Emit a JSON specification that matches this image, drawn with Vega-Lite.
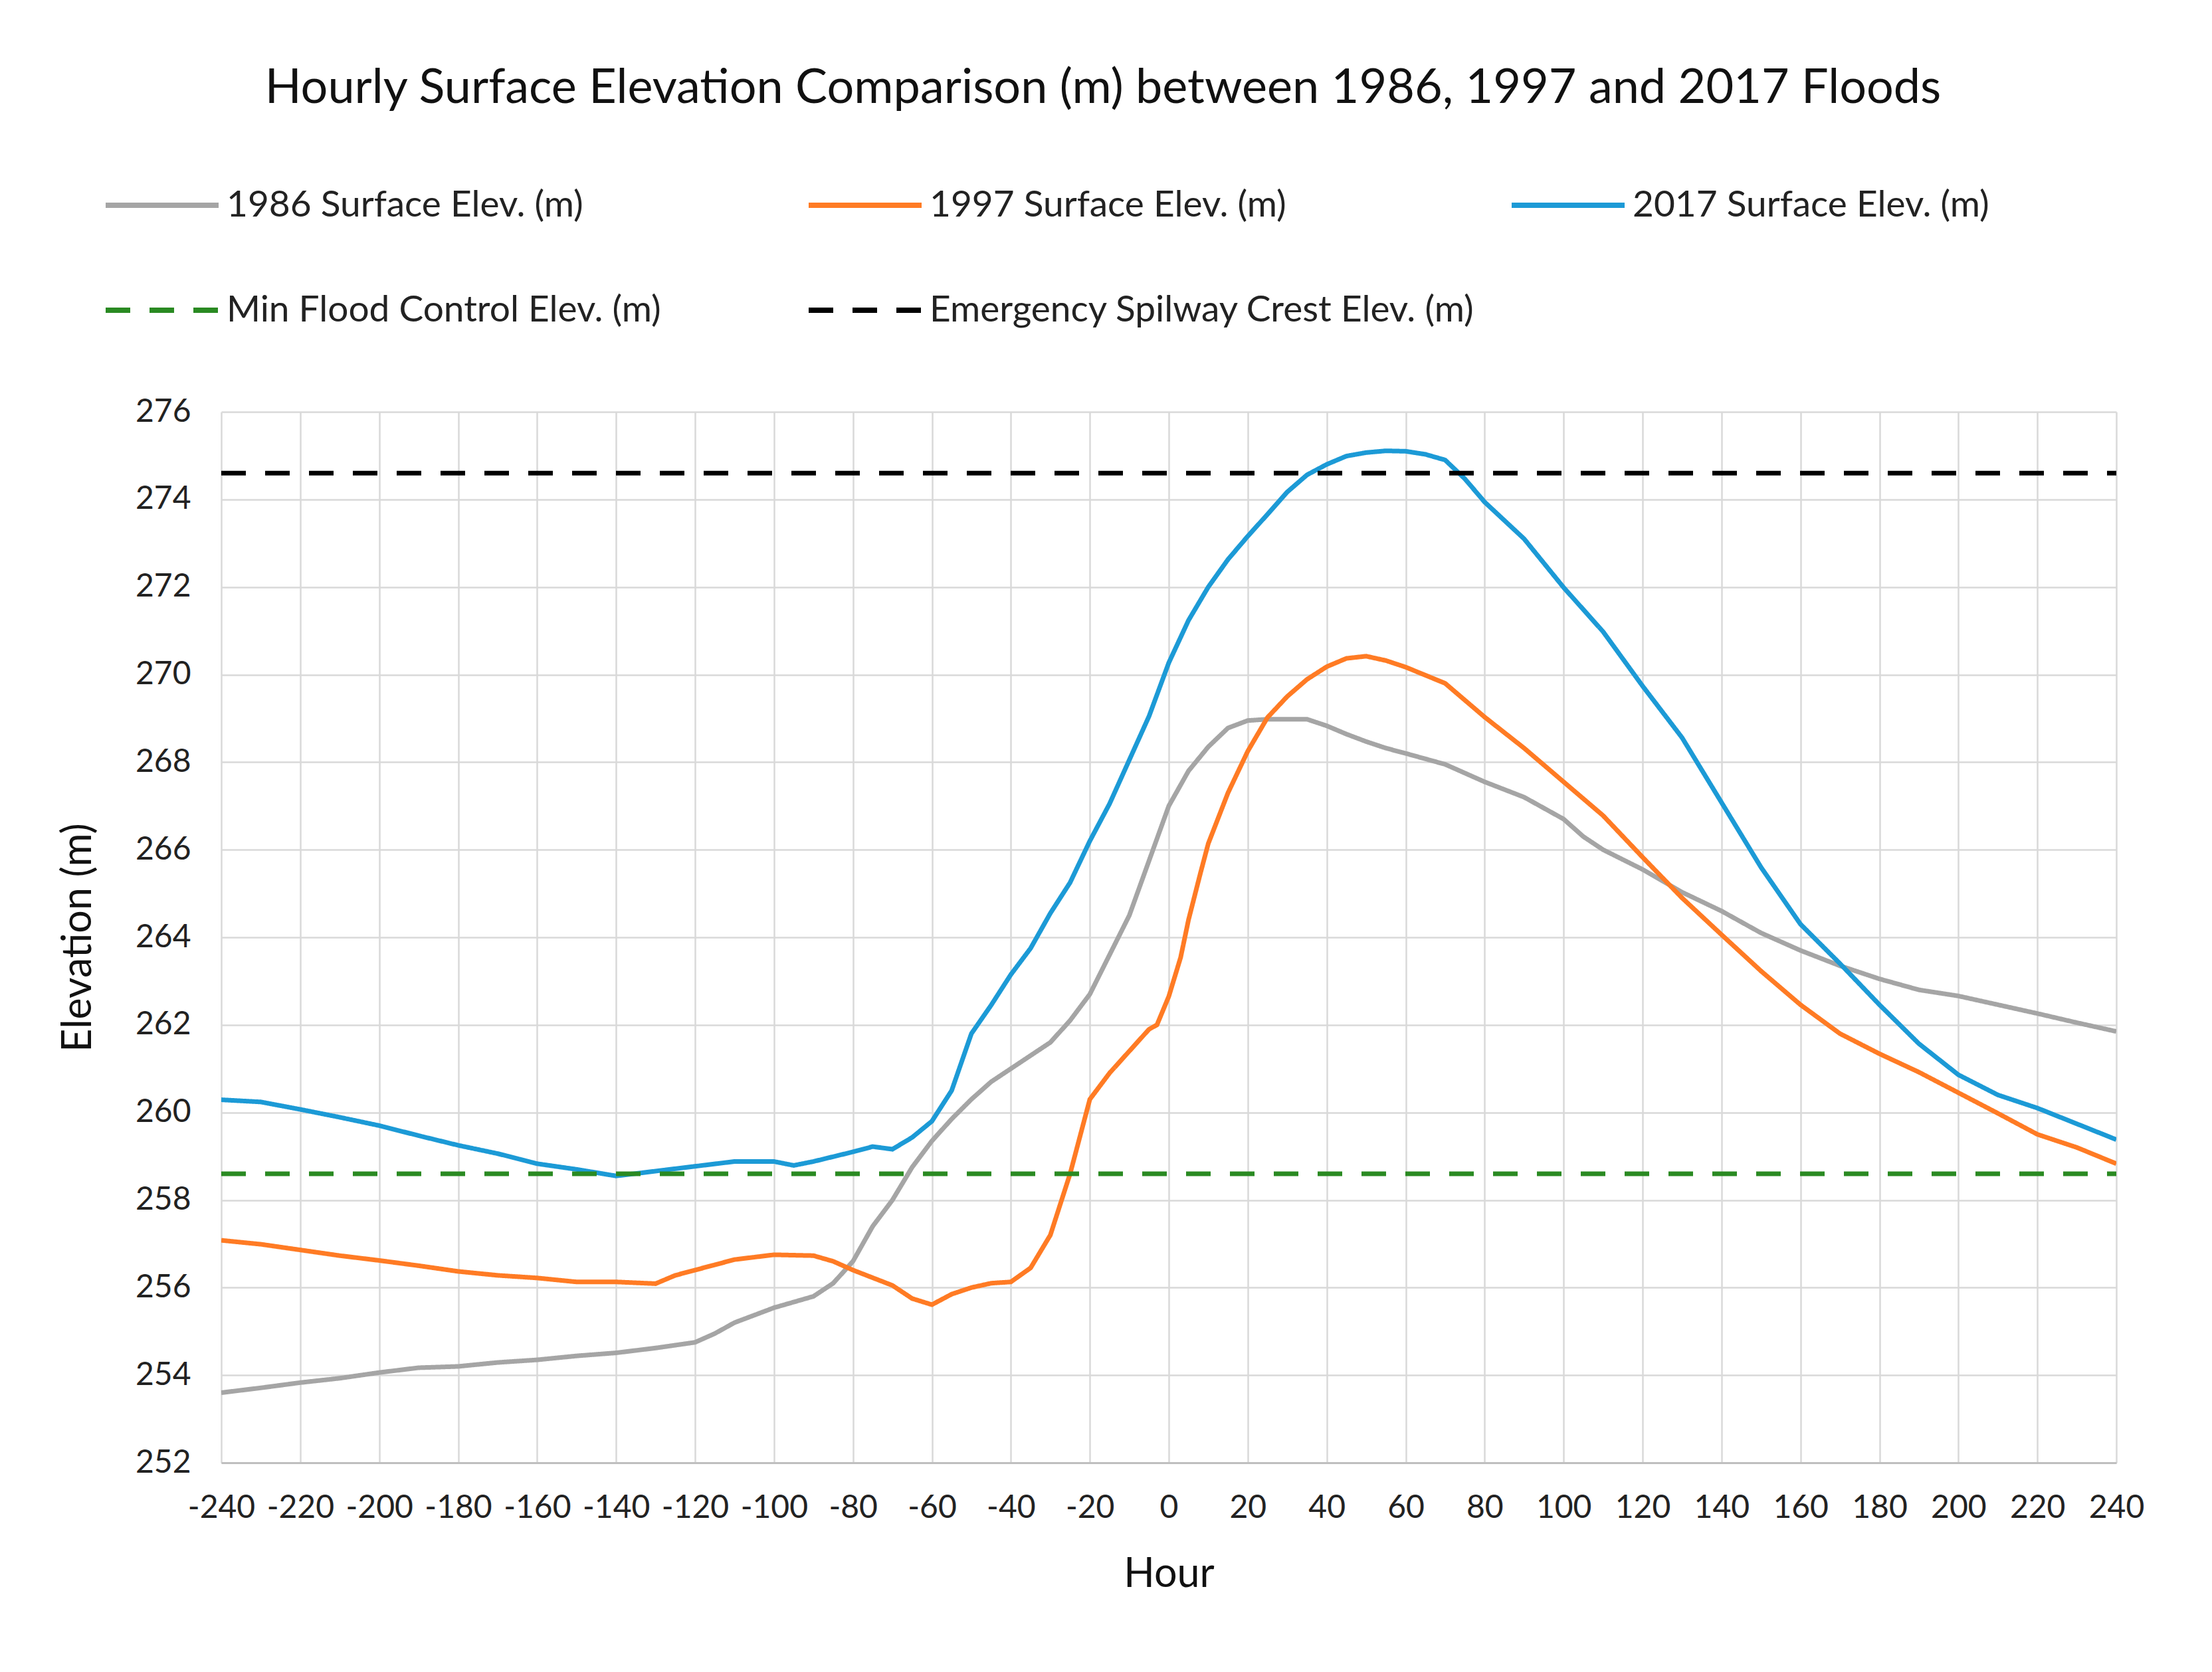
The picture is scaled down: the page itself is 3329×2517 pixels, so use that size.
{
  "$schema": "https://vega.github.io/schema/vega-lite/v6.json",
  "width": 2852,
  "height": 1582,
  "autosize": {"type": "none"},
  "padding": {"left": 333, "top": 620, "right": 144, "bottom": 315},
  "background": "white",
  "title": {
    "text": "Hourly Surface Elevation Comparison (m) between 1986, 1997 and 2017 Floods",
    "font": "Lato",
    "fontSize": 72,
    "fontWeight": "normal",
    "color": "#111111",
    "anchor": "middle",
    "dx": -99,
    "offset": 50
  },
  "data": {
    "values": [
      {"hour": -240, "series": "1986 Surface Elev. (m)", "elev": 253.6},
      {"hour": -230, "series": "1986 Surface Elev. (m)", "elev": 253.71},
      {"hour": -220, "series": "1986 Surface Elev. (m)", "elev": 253.83},
      {"hour": -210, "series": "1986 Surface Elev. (m)", "elev": 253.93},
      {"hour": -200, "series": "1986 Surface Elev. (m)", "elev": 254.06},
      {"hour": -190, "series": "1986 Surface Elev. (m)", "elev": 254.17},
      {"hour": -180, "series": "1986 Surface Elev. (m)", "elev": 254.2},
      {"hour": -170, "series": "1986 Surface Elev. (m)", "elev": 254.29},
      {"hour": -160, "series": "1986 Surface Elev. (m)", "elev": 254.35},
      {"hour": -150, "series": "1986 Surface Elev. (m)", "elev": 254.44},
      {"hour": -140, "series": "1986 Surface Elev. (m)", "elev": 254.51},
      {"hour": -130, "series": "1986 Surface Elev. (m)", "elev": 254.62},
      {"hour": -120, "series": "1986 Surface Elev. (m)", "elev": 254.75},
      {"hour": -115, "series": "1986 Surface Elev. (m)", "elev": 254.95},
      {"hour": -110, "series": "1986 Surface Elev. (m)", "elev": 255.2},
      {"hour": -100, "series": "1986 Surface Elev. (m)", "elev": 255.54},
      {"hour": -90, "series": "1986 Surface Elev. (m)", "elev": 255.8},
      {"hour": -85, "series": "1986 Surface Elev. (m)", "elev": 256.1},
      {"hour": -80, "series": "1986 Surface Elev. (m)", "elev": 256.6},
      {"hour": -75, "series": "1986 Surface Elev. (m)", "elev": 257.4},
      {"hour": -70, "series": "1986 Surface Elev. (m)", "elev": 258.0},
      {"hour": -65, "series": "1986 Surface Elev. (m)", "elev": 258.75},
      {"hour": -60, "series": "1986 Surface Elev. (m)", "elev": 259.35},
      {"hour": -55, "series": "1986 Surface Elev. (m)", "elev": 259.85},
      {"hour": -50, "series": "1986 Surface Elev. (m)", "elev": 260.3},
      {"hour": -45, "series": "1986 Surface Elev. (m)", "elev": 260.7},
      {"hour": -40, "series": "1986 Surface Elev. (m)", "elev": 261.0},
      {"hour": -35, "series": "1986 Surface Elev. (m)", "elev": 261.3},
      {"hour": -30, "series": "1986 Surface Elev. (m)", "elev": 261.6},
      {"hour": -25, "series": "1986 Surface Elev. (m)", "elev": 262.1},
      {"hour": -20, "series": "1986 Surface Elev. (m)", "elev": 262.7},
      {"hour": -15, "series": "1986 Surface Elev. (m)", "elev": 263.6},
      {"hour": -10, "series": "1986 Surface Elev. (m)", "elev": 264.5},
      {"hour": -5, "series": "1986 Surface Elev. (m)", "elev": 265.75},
      {"hour": 0, "series": "1986 Surface Elev. (m)", "elev": 267.0},
      {"hour": 5, "series": "1986 Surface Elev. (m)", "elev": 267.8},
      {"hour": 10, "series": "1986 Surface Elev. (m)", "elev": 268.35},
      {"hour": 15, "series": "1986 Surface Elev. (m)", "elev": 268.78},
      {"hour": 20, "series": "1986 Surface Elev. (m)", "elev": 268.95},
      {"hour": 25, "series": "1986 Surface Elev. (m)", "elev": 268.98},
      {"hour": 30, "series": "1986 Surface Elev. (m)", "elev": 268.98},
      {"hour": 35, "series": "1986 Surface Elev. (m)", "elev": 268.98},
      {"hour": 40, "series": "1986 Surface Elev. (m)", "elev": 268.83},
      {"hour": 45, "series": "1986 Surface Elev. (m)", "elev": 268.64},
      {"hour": 50, "series": "1986 Surface Elev. (m)", "elev": 268.47},
      {"hour": 55, "series": "1986 Surface Elev. (m)", "elev": 268.32},
      {"hour": 60, "series": "1986 Surface Elev. (m)", "elev": 268.2},
      {"hour": 70, "series": "1986 Surface Elev. (m)", "elev": 267.95},
      {"hour": 80, "series": "1986 Surface Elev. (m)", "elev": 267.55},
      {"hour": 90, "series": "1986 Surface Elev. (m)", "elev": 267.2},
      {"hour": 100, "series": "1986 Surface Elev. (m)", "elev": 266.7},
      {"hour": 105, "series": "1986 Surface Elev. (m)", "elev": 266.3},
      {"hour": 110, "series": "1986 Surface Elev. (m)", "elev": 266.0},
      {"hour": 120, "series": "1986 Surface Elev. (m)", "elev": 265.55},
      {"hour": 130, "series": "1986 Surface Elev. (m)", "elev": 265.03},
      {"hour": 140, "series": "1986 Surface Elev. (m)", "elev": 264.6},
      {"hour": 150, "series": "1986 Surface Elev. (m)", "elev": 264.1},
      {"hour": 160, "series": "1986 Surface Elev. (m)", "elev": 263.7},
      {"hour": 170, "series": "1986 Surface Elev. (m)", "elev": 263.35},
      {"hour": 180, "series": "1986 Surface Elev. (m)", "elev": 263.05},
      {"hour": 190, "series": "1986 Surface Elev. (m)", "elev": 262.8},
      {"hour": 200, "series": "1986 Surface Elev. (m)", "elev": 262.66},
      {"hour": 210, "series": "1986 Surface Elev. (m)", "elev": 262.46},
      {"hour": 220, "series": "1986 Surface Elev. (m)", "elev": 262.26},
      {"hour": 230, "series": "1986 Surface Elev. (m)", "elev": 262.05},
      {"hour": 240, "series": "1986 Surface Elev. (m)", "elev": 261.85},

      {"hour": -240, "series": "1997 Surface Elev. (m)", "elev": 257.08},
      {"hour": -230, "series": "1997 Surface Elev. (m)", "elev": 256.99},
      {"hour": -220, "series": "1997 Surface Elev. (m)", "elev": 256.86},
      {"hour": -210, "series": "1997 Surface Elev. (m)", "elev": 256.73},
      {"hour": -200, "series": "1997 Surface Elev. (m)", "elev": 256.62},
      {"hour": -190, "series": "1997 Surface Elev. (m)", "elev": 256.5},
      {"hour": -180, "series": "1997 Surface Elev. (m)", "elev": 256.37},
      {"hour": -170, "series": "1997 Surface Elev. (m)", "elev": 256.28},
      {"hour": -160, "series": "1997 Surface Elev. (m)", "elev": 256.22},
      {"hour": -150, "series": "1997 Surface Elev. (m)", "elev": 256.13},
      {"hour": -140, "series": "1997 Surface Elev. (m)", "elev": 256.13},
      {"hour": -130, "series": "1997 Surface Elev. (m)", "elev": 256.09},
      {"hour": -125, "series": "1997 Surface Elev. (m)", "elev": 256.28},
      {"hour": -120, "series": "1997 Surface Elev. (m)", "elev": 256.4},
      {"hour": -110, "series": "1997 Surface Elev. (m)", "elev": 256.64},
      {"hour": -100, "series": "1997 Surface Elev. (m)", "elev": 256.75},
      {"hour": -90, "series": "1997 Surface Elev. (m)", "elev": 256.73},
      {"hour": -85, "series": "1997 Surface Elev. (m)", "elev": 256.6},
      {"hour": -80, "series": "1997 Surface Elev. (m)", "elev": 256.4},
      {"hour": -70, "series": "1997 Surface Elev. (m)", "elev": 256.05},
      {"hour": -65, "series": "1997 Surface Elev. (m)", "elev": 255.75},
      {"hour": -60, "series": "1997 Surface Elev. (m)", "elev": 255.61},
      {"hour": -55, "series": "1997 Surface Elev. (m)", "elev": 255.85},
      {"hour": -50, "series": "1997 Surface Elev. (m)", "elev": 256.0},
      {"hour": -45, "series": "1997 Surface Elev. (m)", "elev": 256.1},
      {"hour": -40, "series": "1997 Surface Elev. (m)", "elev": 256.13},
      {"hour": -35, "series": "1997 Surface Elev. (m)", "elev": 256.45},
      {"hour": -30, "series": "1997 Surface Elev. (m)", "elev": 257.2},
      {"hour": -25, "series": "1997 Surface Elev. (m)", "elev": 258.6},
      {"hour": -20, "series": "1997 Surface Elev. (m)", "elev": 260.3},
      {"hour": -15, "series": "1997 Surface Elev. (m)", "elev": 260.9},
      {"hour": -10, "series": "1997 Surface Elev. (m)", "elev": 261.4},
      {"hour": -5, "series": "1997 Surface Elev. (m)", "elev": 261.9},
      {"hour": -3, "series": "1997 Surface Elev. (m)", "elev": 262.0},
      {"hour": 0, "series": "1997 Surface Elev. (m)", "elev": 262.65},
      {"hour": 3, "series": "1997 Surface Elev. (m)", "elev": 263.54},
      {"hour": 5, "series": "1997 Surface Elev. (m)", "elev": 264.4},
      {"hour": 8, "series": "1997 Surface Elev. (m)", "elev": 265.46},
      {"hour": 10, "series": "1997 Surface Elev. (m)", "elev": 266.14},
      {"hour": 15, "series": "1997 Surface Elev. (m)", "elev": 267.3},
      {"hour": 20, "series": "1997 Surface Elev. (m)", "elev": 268.25},
      {"hour": 25, "series": "1997 Surface Elev. (m)", "elev": 269.02},
      {"hour": 30, "series": "1997 Surface Elev. (m)", "elev": 269.5},
      {"hour": 35, "series": "1997 Surface Elev. (m)", "elev": 269.89},
      {"hour": 40, "series": "1997 Surface Elev. (m)", "elev": 270.18},
      {"hour": 45, "series": "1997 Surface Elev. (m)", "elev": 270.37},
      {"hour": 50, "series": "1997 Surface Elev. (m)", "elev": 270.42},
      {"hour": 55, "series": "1997 Surface Elev. (m)", "elev": 270.32},
      {"hour": 60, "series": "1997 Surface Elev. (m)", "elev": 270.17},
      {"hour": 70, "series": "1997 Surface Elev. (m)", "elev": 269.8},
      {"hour": 80, "series": "1997 Surface Elev. (m)", "elev": 269.03},
      {"hour": 90, "series": "1997 Surface Elev. (m)", "elev": 268.32},
      {"hour": 100, "series": "1997 Surface Elev. (m)", "elev": 267.55},
      {"hour": 110, "series": "1997 Surface Elev. (m)", "elev": 266.78},
      {"hour": 120, "series": "1997 Surface Elev. (m)", "elev": 265.83},
      {"hour": 130, "series": "1997 Surface Elev. (m)", "elev": 264.9},
      {"hour": 140, "series": "1997 Surface Elev. (m)", "elev": 264.06},
      {"hour": 150, "series": "1997 Surface Elev. (m)", "elev": 263.23},
      {"hour": 160, "series": "1997 Surface Elev. (m)", "elev": 262.46},
      {"hour": 170, "series": "1997 Surface Elev. (m)", "elev": 261.8},
      {"hour": 180, "series": "1997 Surface Elev. (m)", "elev": 261.34},
      {"hour": 190, "series": "1997 Surface Elev. (m)", "elev": 260.92},
      {"hour": 200, "series": "1997 Surface Elev. (m)", "elev": 260.45},
      {"hour": 210, "series": "1997 Surface Elev. (m)", "elev": 259.98},
      {"hour": 220, "series": "1997 Surface Elev. (m)", "elev": 259.5},
      {"hour": 230, "series": "1997 Surface Elev. (m)", "elev": 259.2},
      {"hour": 240, "series": "1997 Surface Elev. (m)", "elev": 258.83},

      {"hour": -240, "series": "2017 Surface Elev. (m)", "elev": 260.29},
      {"hour": -230, "series": "2017 Surface Elev. (m)", "elev": 260.24},
      {"hour": -220, "series": "2017 Surface Elev. (m)", "elev": 260.07},
      {"hour": -210, "series": "2017 Surface Elev. (m)", "elev": 259.89},
      {"hour": -200, "series": "2017 Surface Elev. (m)", "elev": 259.7},
      {"hour": -190, "series": "2017 Surface Elev. (m)", "elev": 259.47},
      {"hour": -180, "series": "2017 Surface Elev. (m)", "elev": 259.25},
      {"hour": -170, "series": "2017 Surface Elev. (m)", "elev": 259.06},
      {"hour": -160, "series": "2017 Surface Elev. (m)", "elev": 258.83},
      {"hour": -150, "series": "2017 Surface Elev. (m)", "elev": 258.7},
      {"hour": -140, "series": "2017 Surface Elev. (m)", "elev": 258.55},
      {"hour": -130, "series": "2017 Surface Elev. (m)", "elev": 258.66},
      {"hour": -120, "series": "2017 Surface Elev. (m)", "elev": 258.77},
      {"hour": -110, "series": "2017 Surface Elev. (m)", "elev": 258.88},
      {"hour": -100, "series": "2017 Surface Elev. (m)", "elev": 258.88},
      {"hour": -95, "series": "2017 Surface Elev. (m)", "elev": 258.79},
      {"hour": -90, "series": "2017 Surface Elev. (m)", "elev": 258.88},
      {"hour": -80, "series": "2017 Surface Elev. (m)", "elev": 259.1},
      {"hour": -75, "series": "2017 Surface Elev. (m)", "elev": 259.22},
      {"hour": -70, "series": "2017 Surface Elev. (m)", "elev": 259.16},
      {"hour": -65, "series": "2017 Surface Elev. (m)", "elev": 259.43},
      {"hour": -60, "series": "2017 Surface Elev. (m)", "elev": 259.8},
      {"hour": -55, "series": "2017 Surface Elev. (m)", "elev": 260.5},
      {"hour": -50, "series": "2017 Surface Elev. (m)", "elev": 261.8},
      {"hour": -45, "series": "2017 Surface Elev. (m)", "elev": 262.45},
      {"hour": -40, "series": "2017 Surface Elev. (m)", "elev": 263.15},
      {"hour": -35, "series": "2017 Surface Elev. (m)", "elev": 263.75},
      {"hour": -30, "series": "2017 Surface Elev. (m)", "elev": 264.55},
      {"hour": -25, "series": "2017 Surface Elev. (m)", "elev": 265.25},
      {"hour": -20, "series": "2017 Surface Elev. (m)", "elev": 266.2},
      {"hour": -15, "series": "2017 Surface Elev. (m)", "elev": 267.05},
      {"hour": -10, "series": "2017 Surface Elev. (m)", "elev": 268.05},
      {"hour": -5, "series": "2017 Surface Elev. (m)", "elev": 269.05},
      {"hour": 0, "series": "2017 Surface Elev. (m)", "elev": 270.27},
      {"hour": 5, "series": "2017 Surface Elev. (m)", "elev": 271.24},
      {"hour": 10, "series": "2017 Surface Elev. (m)", "elev": 272.0},
      {"hour": 15, "series": "2017 Surface Elev. (m)", "elev": 272.63},
      {"hour": 20, "series": "2017 Surface Elev. (m)", "elev": 273.16},
      {"hour": 25, "series": "2017 Surface Elev. (m)", "elev": 273.66},
      {"hour": 30, "series": "2017 Surface Elev. (m)", "elev": 274.17},
      {"hour": 35, "series": "2017 Surface Elev. (m)", "elev": 274.56},
      {"hour": 40, "series": "2017 Surface Elev. (m)", "elev": 274.8},
      {"hour": 45, "series": "2017 Surface Elev. (m)", "elev": 274.99},
      {"hour": 50, "series": "2017 Surface Elev. (m)", "elev": 275.07},
      {"hour": 55, "series": "2017 Surface Elev. (m)", "elev": 275.11},
      {"hour": 60, "series": "2017 Surface Elev. (m)", "elev": 275.1},
      {"hour": 65, "series": "2017 Surface Elev. (m)", "elev": 275.03},
      {"hour": 70, "series": "2017 Surface Elev. (m)", "elev": 274.9},
      {"hour": 75, "series": "2017 Surface Elev. (m)", "elev": 274.47},
      {"hour": 80, "series": "2017 Surface Elev. (m)", "elev": 273.94},
      {"hour": 90, "series": "2017 Surface Elev. (m)", "elev": 273.1},
      {"hour": 100, "series": "2017 Surface Elev. (m)", "elev": 271.99},
      {"hour": 110, "series": "2017 Surface Elev. (m)", "elev": 270.98},
      {"hour": 120, "series": "2017 Surface Elev. (m)", "elev": 269.74},
      {"hour": 130, "series": "2017 Surface Elev. (m)", "elev": 268.56},
      {"hour": 140, "series": "2017 Surface Elev. (m)", "elev": 267.08},
      {"hour": 150, "series": "2017 Surface Elev. (m)", "elev": 265.6},
      {"hour": 160, "series": "2017 Surface Elev. (m)", "elev": 264.3},
      {"hour": 170, "series": "2017 Surface Elev. (m)", "elev": 263.4},
      {"hour": 180, "series": "2017 Surface Elev. (m)", "elev": 262.46},
      {"hour": 190, "series": "2017 Surface Elev. (m)", "elev": 261.57},
      {"hour": 200, "series": "2017 Surface Elev. (m)", "elev": 260.86},
      {"hour": 210, "series": "2017 Surface Elev. (m)", "elev": 260.4},
      {"hour": 220, "series": "2017 Surface Elev. (m)", "elev": 260.1},
      {"hour": 230, "series": "2017 Surface Elev. (m)", "elev": 259.74},
      {"hour": 240, "series": "2017 Surface Elev. (m)", "elev": 259.38},

      {"hour": -240, "series": "Min Flood Control Elev. (m)", "elev": 258.6},
      {"hour": 240, "series": "Min Flood Control Elev. (m)", "elev": 258.6},

      {"hour": -240, "series": "Emergency Spilway Crest Elev. (m)", "elev": 274.6},
      {"hour": 240, "series": "Emergency Spilway Crest Elev. (m)", "elev": 274.6}
    ]
  },
  "mark": {"type": "line", "strokeWidth": 7, "strokeCap": "butt", "clip": true},
  "encoding": {
    "x": {
      "field": "hour",
      "type": "quantitative",
      "title": "Hour",
      "scale": {"domain": [-240, 240], "nice": false, "zero": false},
      "axis": {
        "values": [-240, -220, -200, -180, -160, -140, -120, -100, -80, -60, -40, -20, 0, 20, 40, 60, 80, 100, 120, 140, 160, 180, 200, 220, 240],
        "labelExpr": "datum.value < 0 ? '-' + abs(datum.value) : '' + datum.value",
        "labelOverlap": false,
        "labelFlush": false,
        "labelPadding": 44,
        "titlePadding": 46
      }
    },
    "y": {
      "field": "elev",
      "type": "quantitative",
      "title": "Elevation (m)",
      "scale": {"domain": [252, 276], "nice": false, "zero": false},
      "axis": {
        "values": [252, 254, 256, 258, 260, 262, 264, 266, 268, 270, 272, 274, 276],
        "labelPadding": 46,
        "titlePadding": 54
      }
    },
    "color": {
      "field": "series",
      "type": "nominal",
      "title": null,
      "scale": {
        "domain": ["1986 Surface Elev. (m)", "1997 Surface Elev. (m)", "2017 Surface Elev. (m)", "Min Flood Control Elev. (m)", "Emergency Spilway Crest Elev. (m)"],
        "range": ["#A5A5A5", "#FF7B24", "#1C9AD6", "#2A8A22", "#000000"]
      },
      "legend": {
        "orient": "none",
        "direction": "horizontal",
        "legendX": -178,
        "legendY": -400,
        "columns": 3,
        "gridAlign": "all",
        "columnPadding": 38,
        "rowPadding": 41,
        "symbolType": "stroke",
        "symbolSize": 28900,
        "symbolStrokeWidth": 8,
        "labelFont": "Lato",
        "labelFontSize": 55,
        "labelColor": "#222222",
        "labelOffset": 8,
        "labelLimit": 1400
      }
    },
    "strokeDash": {
      "field": "series",
      "type": "nominal",
      "title": null,
      "scale": {
        "domain": ["1986 Surface Elev. (m)", "1997 Surface Elev. (m)", "2017 Surface Elev. (m)", "Min Flood Control Elev. (m)", "Emergency Spilway Crest Elev. (m)"],
        "range": [[1, 0], [1, 0], [1, 0], [37, 29], [37, 29]]
      }
    }
  },
  "config": {
    "view": {"stroke": null},
    "axis": {
      "labelFont": "Lato",
      "labelFontSize": 48,
      "labelColor": "#222222",
      "titleFont": "Lato",
      "titleFontSize": 61,
      "titleFontWeight": "normal",
      "titleColor": "#111111",
      "grid": true,
      "gridColor": "#D9D9D9",
      "gridWidth": 2.5,
      "domain": false,
      "ticks": false
    },
    "axisX": {"domain": true, "domainColor": "#BFBFBF", "domainWidth": 3}
  }
}
